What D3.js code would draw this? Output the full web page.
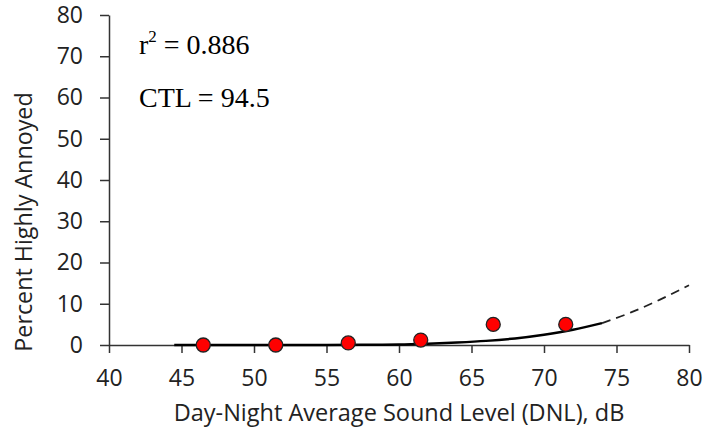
<!DOCTYPE html>
<html>
<head>
<meta charset="utf-8">
<script src="https://cdn.jsdelivr.net/npm/d3@7"></script>
<style>
  body { margin: 0; background: #fff; }
  .tick text { font-family: "Open Sans", sans-serif; font-size: 23px; fill: #222; }
</style>
</head>
<body>
<div id="chart"></div>
<script>
// survey points
var dnl = [46.5, 51.5, 56.5, 61.5, 66.5, 71.5];
var pctHA = [0, 0, 0.5, 1.2, 5.0, 5.0];

// fitted curve (solid part, then dashed extrapolation)
var fitX = [44.5, 50, 55, 58, 60, 62, 64, 66, 68, 70, 72, 74];
var fitY = [0, 0, 0, 0.05, 0.1, 0.3, 0.6, 1.0, 1.6, 2.5, 3.7, 5.3];
var extX = [74, 76, 78, 80];
var extY = [5.3, 7.9, 11.0, 14.5];

var xTicks = [40, 45, 50, 55, 60, 65, 70, 75, 80];
var yTicks = [0, 10, 20, 30, 40, 50, 60, 70, 80];

var width = 705, height = 436;
var margin = {top: 15, right: 16, bottom: 91, left: 109};

var svg = d3.select('#chart').append('svg')
  .attr('width', width)
  .attr('height', height);

var x = d3.scaleLinear().domain([40, 80]).range([margin.left, width - margin.right]);
var y = d3.scaleLinear().domain([0, 80]).range([height - margin.bottom, margin.top]);

// axes
var xAxis = svg.append('g')
  .attr('transform', 'translate(0,' + y(0) + ')')
  .call(d3.axisBottom(x).tickValues(xTicks).tickSize(8).tickSizeOuter(0).tickPadding(17));
var yAxis = svg.append('g')
  .attr('transform', 'translate(' + x(40) + ',0)')
  .call(d3.axisLeft(y).tickValues(yTicks).tickSize(9).tickSizeOuter(0).tickPadding(17));

[xAxis, yAxis].forEach(function(a) {
  a.select('.domain').attr('stroke', '#333').attr('stroke-width', 1.5);
  a.selectAll('.tick line').attr('stroke', '#333').attr('stroke-width', 1.5);
});

// fit line
var line = d3.line()
  .x(function(d) { return x(d[0]); })
  .y(function(d) { return y(d[1]); })
  .curve(d3.curveMonotoneX);

svg.append('path')
  .datum(d3.zip(fitX, fitY))
  .attr('fill', 'none')
  .attr('stroke', '#000')
  .attr('stroke-width', 2.5)
  .attr('d', line);

svg.append('path')
  .datum(d3.zip(extX, extY))
  .attr('fill', 'none')
  .attr('stroke', '#222')
  .attr('stroke-width', 1.8)
  .attr('stroke-dasharray', '9,6')
  .attr('d', line);

// points
svg.append('g').selectAll('circle')
  .data(d3.zip(dnl, pctHA))
  .enter()
  .append('circle')
  .attr('cx', function(d) { return x(d[0]); })
  .attr('cy', function(d) { return y(d[1]); })
  .attr('r', 7)
  .attr('fill', '#ff0000')
  .attr('stroke', '#222')
  .attr('stroke-width', 1.3);

// axis titles
svg.append('text')
  .attr('x', (x(40) + x(80)) / 2)
  .attr('y', 421)
  .attr('text-anchor', 'middle')
  .style('font-family', '"Open Sans", sans-serif')
  .style('font-size', '23.5px')
  .style('fill', '#222')
  .text('Day-Night Average Sound Level (DNL), dB');

svg.append('text')
  .attr('transform', 'translate(32,222)rotate(-90)')
  .attr('text-anchor', 'middle')
  .style('font-family', '"Open Sans", sans-serif')
  .style('font-size', '23.3px')
  .style('fill', '#222')
  .text('Percent Highly Annoyed');

// annotations
var note = svg.append('g')
  .style('font-family', '"Liberation Serif", "Times New Roman", serif')
  .style('font-size', '28px')
  .style('fill', '#000');

var r2 = note.append('text').attr('x', 139).attr('y', 54);
r2.append('tspan').text('r');
r2.append('tspan').attr('dy', -12).style('font-size', '17px').text('2');
r2.append('tspan').attr('dy', 12).text(' = 0.886');

note.append('text').attr('x', 139).attr('y', 107).text('CTL = 94.5');
</script>
</body>
</html>
